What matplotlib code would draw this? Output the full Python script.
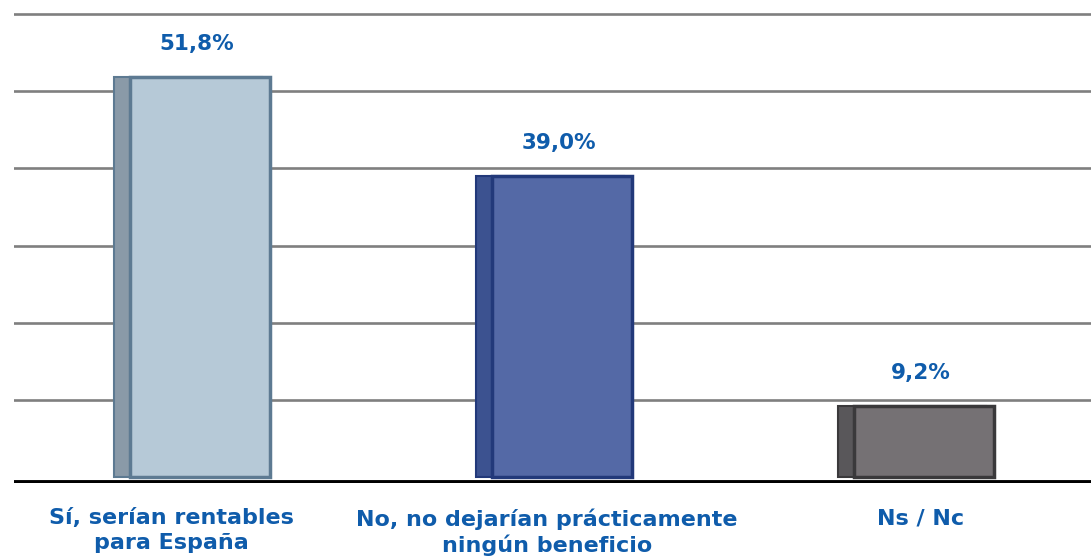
import matplotlib.pyplot as plt
import matplotlib.transforms as mtransforms
import numpy as np

# Datos
categorias = ['Sí, serían rentables\npara España',
              'No, no dejarían prácticamente\nningún beneficio',
              'Ns / Nc']
valores = [51.8, 39.0, 9.2]
etiquetas = ['51,8%', '39,0%', '9,2%']

# Colores: frente, lateral, borde
frente = ['#b6c9d7', '#5469a6', '#757174']
lateral = ['#8a9aa8', '#3c5290', '#59575a']
borde = ['#5d7a92', '#22397a', '#3a393b']
azul = '#0f5cab'

fig = plt.figure(figsize=(10.91, 5.58), dpi=100)
ax = fig.add_axes([14 / 1091, 0.134, 1 - 14 / 1091, 0.9776 - 0.134])

x = np.arange(len(valores))

# Lineas de la cuadricula
for g in range(10, 70, 10):
    ax.axhline(g, color='#7f7f7f', lw=1.9, zorder=0)

# "3D": cara lateral desplazada y cara frontal con borde
ax.bar(x - 0.02, valores, width=0.41, color=lateral, edgecolor=borde, linewidth=1.5, zorder=2)
ax.bar(x + 0.014, valores, width=0.385, color=frente, edgecolor=borde, linewidth=2.5, zorder=3)

for xi, v, t in zip(x, valores, etiquetas):
    ax.text(xi + 0.005, v + 3.0, t, ha='center', va='bottom', color=azul,
            fontsize=15.5, fontweight='bold', family='DejaVu Sans')

# Linea base
ax.axhline(-0.6, color='black', lw=3.5, zorder=4)

ax.set_xlim(-0.5, 2.475)
ax.set_ylim(-0.8, 60.2)
ax.set_yticks([])
ax.set_xticks(x)
ax.set_xticklabels(categorias, color=azul, fontsize=16, fontweight='bold',
                   family='DejaVu Sans', linespacing=1.3)
ax.tick_params(axis='x', length=0, pad=18)

# pequeno desplazamiento horizontal de las etiquetas como en el original
for lbl, dx in zip(ax.get_xticklabels(), [-24, -10, 2]):
    lbl.set_transform(lbl.get_transform() + mtransforms.ScaledTranslation(dx / 100, 0, fig.dpi_scale_trans))

for s in ax.spines.values():
    s.set_visible(False)

plt.savefig('out.png', dpi=100)
